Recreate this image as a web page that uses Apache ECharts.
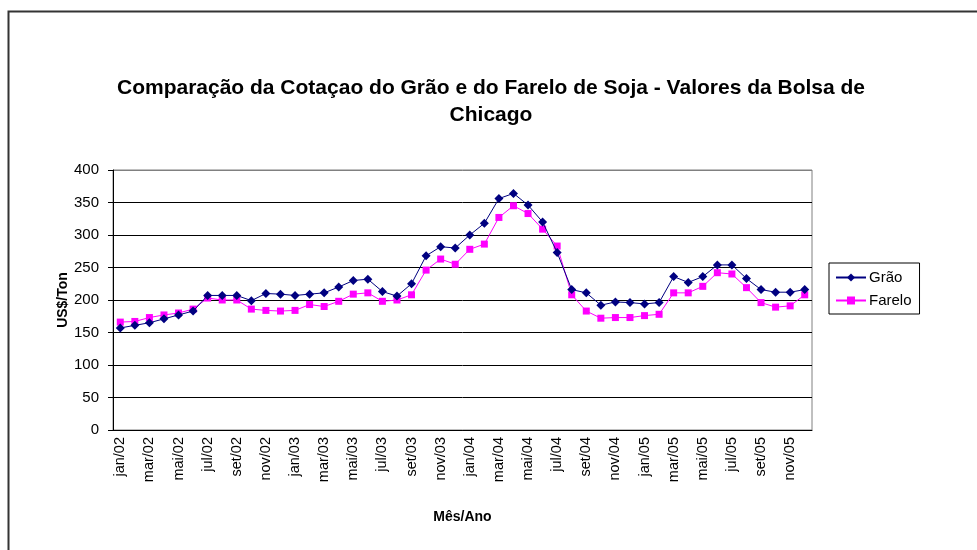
<!DOCTYPE html>
<html>
<head>
<meta charset="utf-8">
<script src="https://cdn.jsdelivr.net/npm/echarts@6/dist/echarts.min.js"></script>
<style>html,body{margin:0;padding:0;background:#fff}#c{width:977px;height:550px}</style>
</head>
<body>
<div id="c"></div>
<script>
const monthNames = ['jan','fev','mar','abr','mai','jun','jul','ago','set','out','nov','dez'];
const years = ['02','03','04','05'];
const categories = [];
years.forEach(y => monthNames.forEach(m => categories.push(m + '/' + y)));

const grao = [157,161,165,171,177,183,207,207,207,199,210,209,207,209,211,220,
              230,232,213,206,225,268,282,280,300,318,356,364,346,320,273,216,
              211,192,197,196,194,196,236,227,236,254,254,233,216,212,212,216];
const farelo = [166,167,173,177,180,186,203,200,200,186,184,183,184,193,190,198,
                209,211,198,200,208,246,263,255,278,286,327,345,333,309,283,208,
                183,172,173,173,176,178,211,211,221,242,240,219,196,189,191,208];
const yTicks = [0,50,100,150,200,250,300,350,400];

const chart = echarts.init(document.getElementById('c'), null, {renderer:'canvas'});
const FONT = '"Liberation Sans", Arial, sans-serif';
chart.setOption({
  animation:false,
  backgroundColor:'#fff',
  textStyle:{fontFamily:FONT},
  title:{
    text:'Comparação da Cotaçao do Grão e do Farelo de Soja - Valores da Bolsa de\nChicago',
    left:486, top:70, textAlign:'center',
    textStyle:{fontFamily:FONT,fontSize:21,fontWeight:'bold',color:'#000',lineHeight:27,align:'center'}
  },
  graphic:[{type:'rect',left:6,top:9,shape:{width:1000,height:600},style:{fill:'none',stroke:'#333',lineWidth:2},silent:true,z:-1}],
  legend:{
    orient:'vertical', left:829, top:263,
    padding:[7,8,6,6], itemGap:8, itemWidth:30, itemHeight:10,
    borderColor:'#000', borderWidth:1,
    textStyle:{fontFamily:FONT,fontSize:15,color:'#000',padding:[0,0,0,-2]},
    data:['Grão','Farelo']
  },
  grid:{left:113, right:165, top:170, bottom:120, show:true, borderColor:'#808080', borderWidth:1},
  xAxis:{
    type:'category', data:categories, boundaryGap:true,
    name:'Mês/Ano', nameLocation:'middle', nameGap:80,
    nameTextStyle:{fontFamily:FONT,fontSize:14,fontWeight:'bold',color:'#000'},
    axisLine:{lineStyle:{color:'#000',width:1}},
    axisTick:{interval:1,length:5,lineStyle:{color:'#000'}},
    axisLabel:{interval:1,rotate:90,fontFamily:FONT,fontSize:14.5,color:'#000',margin:7}
  },
  yAxis:{
    type:'value', min:0, max:400, interval:50,
    name:'US$/Ton', nameLocation:'middle', nameGap:43, nameRotate:90, nameMoveOverlap:false,
    nameTextStyle:{fontFamily:FONT,fontSize:14,fontWeight:'bold',color:'#000'},
    axisLine:{show:true,lineStyle:{color:'#000',width:1}},
    axisTick:{show:true,length:5,lineStyle:{color:'#000'}},
    axisLabel:{fontFamily:FONT,fontSize:15,color:'#000',margin:14},
    splitLine:{lineStyle:{color:['#000','#000','#000','#000','#000','#000','#000','#000','#808080'],width:1}}
  },
  series:[
    {name:'Grão',type:'line',data:grao,symbol:'diamond',symbolSize:9,
     itemStyle:{color:'#000080'},lineStyle:{color:'#000080',width:1},z:3},
    {name:'Farelo',type:'line',data:farelo,symbol:'rect',symbolSize:7,
     itemStyle:{color:'#FF00FF'},lineStyle:{color:'#FF00FF',width:1},z:2}
  ]
});
</script>
</body>
</html>
